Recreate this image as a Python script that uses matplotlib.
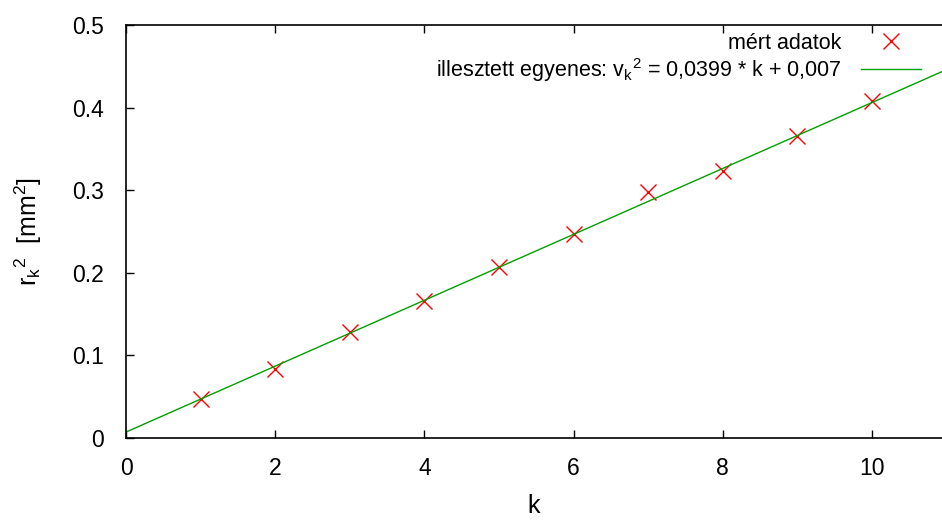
import matplotlib
matplotlib.use('Agg')
import matplotlib.pyplot as plt
import numpy as np

plt.rcParams['font.family'] = ['Liberation Sans', 'DejaVu Sans']
plt.rcParams['mathtext.fontset'] = 'custom'
plt.rcParams['mathtext.rm'] = 'Liberation Sans'
plt.rcParams['mathtext.it'] = 'Liberation Sans'

# measured data
k = [1, 2, 3, 4, 5, 6, 7, 8, 9, 10]
r2 = [0.047, 0.083, 0.128, 0.166, 0.207, 0.247, 0.298, 0.323, 0.365, 0.408]

# fit parameters
slope = 0.0399
intercept = 0.007

xticks = [0, 2, 4, 6, 8, 10]
yticks = [0, 0.1, 0.2, 0.3, 0.4, 0.5]
yticklabels = ['0', '0.1', '0.2', '0.3', '0.4', '0.5']

fig = plt.figure(figsize=(9.42, 5.2), dpi=100)
ax = fig.add_axes([0.1338, 0.158, 0.8662, 0.794])

xs = np.linspace(0, 11, 200)
ax.plot(k, r2, linestyle='none', marker='x', color='#ff0000', markersize=12,
        markeredgewidth=1.0, label='mért adatok')
ax.plot(xs, slope * xs + intercept, color='#00a000', linewidth=1.0,
        label=r'illesztett egyenes: $\mathregular{v_k{}^2}$ = 0,0399 * k + 0,007')

ax.set_xlim(0, 10.94)
ax.set_ylim(0, 0.5)
ax.set_xticks(xticks)
ax.set_yticks(yticks)
ax.set_yticklabels(yticklabels)
ax.tick_params(direction='in', length=6, width=1, labelsize=16.5, pad=16,
               top=True, right=False)
ax.tick_params(axis='x', pad=14)
ax.spines['right'].set_visible(False)
for s in ['left', 'bottom', 'top']:
	ax.spines[s].set_linewidth(1.2)

ax.set_xlabel('k', fontsize=18, labelpad=10)
ax.set_ylabel(r'$\mathregular{r_k{}^2}$  [mm$\mathregular{^2}$]', fontsize=18, labelpad=20)

ax.legend(loc='upper right', bbox_to_anchor=(0.99, 1.012), frameon=False,
          markerfirst=False, fontsize=15.5, handlelength=2.8, labelspacing=0.1,
          handletextpad=0.9, borderaxespad=0.2)

fig.savefig('out.png', dpi=100)
plt.close()
